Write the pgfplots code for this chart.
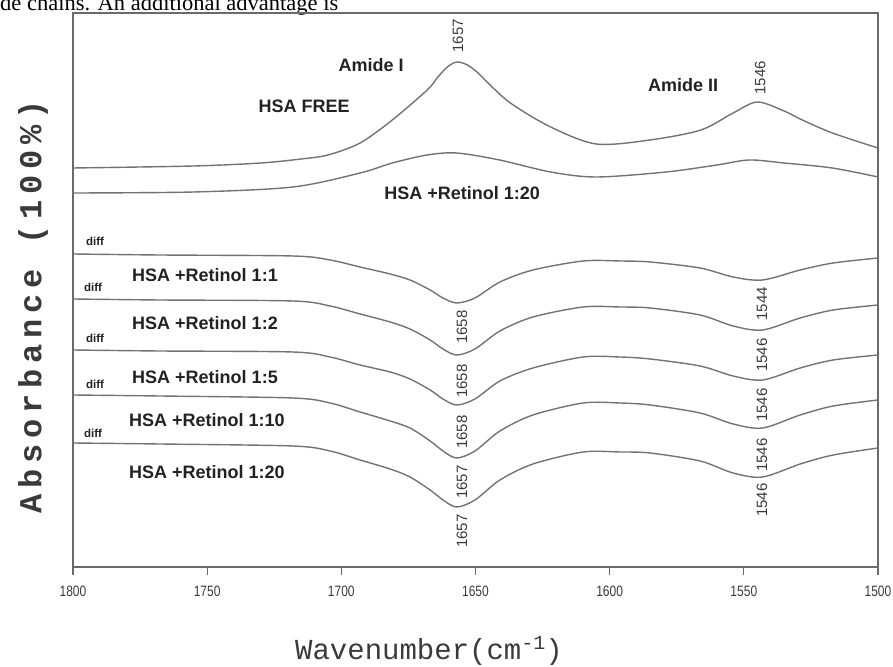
\documentclass[border=0pt]{standalone}
\usepackage{fontspec}
\setmainfont{Liberation Sans}
\newfontfamily\monofont{Liberation Mono}
\newfontfamily\ylabfont[LetterSpace=18]{Liberation Mono}
\newfontfamily\serifont{Liberation Serif}
\usepackage{pgfplots}
\pgfplotsset{compat=1.18}
\definecolor{curvegray}{HTML}{737373}
\definecolor{framegray}{HTML}{6A6A6A}
\definecolor{txt}{HTML}{222222}
\definecolor{numgray}{HTML}{3A3A3A}
\tikzset{
  lbl/.style={font=\bfseries\fontsize{18}{18}\selectfont, text=txt, inner sep=0pt},
  dif/.style={font=\bfseries\fontsize{11.5}{11.5}\selectfont, text=txt, inner sep=0pt},
  num/.style={rotate=90, font=\fontsize{15}{15}\selectfont, text=numgray, inner sep=0pt},
  sp/.style={draw=curvegray, line width=1.4pt, smooth, mark=none},
}
\begin{document}
\begin{tikzpicture}
\useasboundingbox (0pt,0pt) rectangle (893pt,666pt);
\node[anchor=base west, inner sep=0pt, font=\serifont\fontsize{22.5}{22.5}\selectfont] at (0pt,655pt) {de chains. An additional advantage is};
\begin{axis}[
  at={(73pt,99pt)}, anchor=south west, scale only axis,
  width=805pt, height=554pt,
  xmin=1500, xmax=1800, x dir=reverse,
  ymin=0, ymax=554,
  axis line style={draw=framegray, line width=1.4pt},
  ytick=\empty,
  xtick={1500,1550,...,1800},
  xtick pos=bottom, tick align=outside,
  major tick length=8pt,
  tick style={draw=framegray, line width=1.2pt},
  xticklabel style={font=\fontsize{15}{15}\selectfont, text=numgray, yshift=-7pt},
  xticklabel={\scalebox{0.8}[1]{\pgfmathprintnumber{\tick}}},
  /pgf/number format/1000 sep={},
  /pgf/number format/assume math mode=true,
  clip=false,
]
% HSA FREE
\addplot[sp] coordinates {
(1800,399) (1755,401) (1730,404) (1715,408) (1705,412) (1693,424) (1681,447) (1668,477)
(1664,490) (1660.5,500) (1657,505) (1653,502) (1649,494) (1645.7,485) (1637,464) (1622,440) (1605,423)
(1585,427) (1566,437) (1554,454) (1545,465) (1535,456) (1529,448) (1517,434) (1500,419)};
% HSA + Retinol 1:20 (spectrum)
\addplot[sp] coordinates {
(1800,374) (1755,375) (1718,380) (1693,394) (1681,404) (1668,412) (1657,414)
(1641,407) (1622,395) (1605,390) (1579,395) (1560,402) (1548,407) (1535,404)
(1517,399) (1500,390)};
% diff 1:1
\addplot[sp] coordinates {
(1800,313) (1767.6,312) (1718,311) (1704.2,307) (1693,300) (1681.8,293) (1674.4,287)
(1666.9,277) (1662.1,269) (1657,264) (1650.2,269) (1640.9,285) (1628.6,297) (1609.9,306)
(1596.1,306) (1584.9,305) (1566.3,299) (1554,290) (1543,287) (1529,297) (1516.7,304) (1500,309)};
% diff 1:2
\addplot[sp] coordinates {
(1800,268) (1767.6,267) (1718,266) (1704.2,261) (1693,253) (1681.8,245) (1674.4,238)
(1666.9,227) (1662.1,218) (1657,212) (1650.2,218) (1640.9,236) (1628.6,250) (1609.9,260)
(1596.1,260) (1584.9,259) (1566.3,252) (1554,241) (1543,237) (1529,249) (1516.7,257) (1500,262)};
% diff 1:5
\addplot[sp] coordinates {
(1800,217) (1767.6,216) (1718,215) (1704.2,210) (1693,202) (1681.8,195) (1674.4,188)
(1666.9,177) (1662.1,168) (1657,162) (1650.2,168) (1640.9,186) (1628.6,199) (1609.9,210)
(1596.1,210) (1584.9,208) (1566.3,201) (1554,191) (1543,187) (1529,199) (1516.7,207) (1500,212)};
% diff 1:10
\addplot[sp] coordinates {
(1800,172) (1767.6,171) (1718,169) (1704.2,164) (1693,155) (1681.8,146) (1674.4,139)
(1666.9,126) (1662.1,116) (1657,109) (1650.2,116) (1640.9,136) (1628.6,152) (1609.9,164)
(1596.1,164) (1584.9,162) (1566.3,154) (1554,143) (1543,139) (1529,152) (1516.7,161) (1500,167)};
% diff 1:20
\addplot[sp] coordinates {
(1800,124) (1767.6,123) (1718,121) (1704.2,116) (1693,107) (1681.8,98) (1674.4,90)
(1666.9,77) (1662.1,67) (1657,60) (1650.2,67) (1640.9,87) (1628.6,103) (1609.9,115)
(1596.1,115) (1584.9,114) (1566.3,106) (1554,94) (1543,90) (1529,103) (1516.7,112) (1500,119)};

% text labels
\node[lbl] at (axis cs:1688.9,502) {Amide I};
\node[lbl] at (axis cs:1713.9,461) {HSA FREE};
\node[lbl] at (axis cs:1572.6,482) {Amide II};
\node[lbl] at (axis cs:1655,374) {HSA +Retinol 1:20};
\node[lbl] at (axis cs:1750.8,292) {HSA +Retinol 1:1};
\node[lbl] at (axis cs:1750.8,244) {HSA +Retinol 1:2};
\node[lbl] at (axis cs:1750.8,190) {HSA +Retinol 1:5};
\node[lbl] at (axis cs:1750.1,147) {HSA +Retinol 1:10};
\node[lbl] at (axis cs:1750.1,95) {HSA +Retinol 1:20};
\node[dif] at (axis cs:1791.8,326) {diff};
\node[dif] at (axis cs:1792.5,280) {diff};
\node[dif] at (axis cs:1791.8,229) {diff};
\node[dif] at (axis cs:1791.8,183) {diff};
\node[dif] at (axis cs:1792.5,134) {diff};
% peak numbers
\node[num] at (axis cs:1656.5,531) {1657};
\node[num] at (axis cs:1543.9,489) {1546};
\node[num] at (axis cs:1655,240) {1658};
\node[num] at (axis cs:1655,186) {1658};
\node[num] at (axis cs:1655,135) {1658};
\node[num] at (axis cs:1655,85) {1657};
\node[num] at (axis cs:1655,36) {1657};
\node[num] at (axis cs:1543.2,263) {1544};
\node[num] at (axis cs:1543.2,212) {1546};
\node[num] at (axis cs:1543.2,162) {1546};
\node[num] at (axis cs:1543.2,112) {1546};
\node[num] at (axis cs:1543.2,67) {1546};
\end{axis}
\node[font=\monofont\fontsize{29}{29}\selectfont, text=numgray, inner sep=0pt] at (429pt,15pt) {Wavenumber(cm\raisebox{10pt}{\fontsize{20}{20}\selectfont -1})};
\node[rotate=90, font=\ylabfont\bfseries\fontsize{32}{32}\selectfont, text=numgray, inner sep=0pt] at (33pt,359pt) {Absorbance (100\%)};
\end{tikzpicture}
\end{document}
